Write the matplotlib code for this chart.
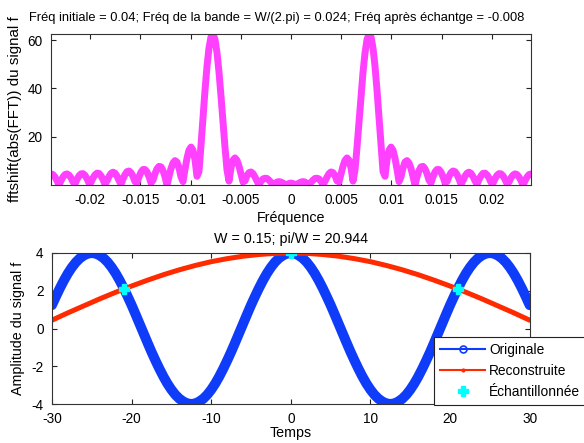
import numpy as np
import matplotlib
matplotlib.use("Agg")
import matplotlib.pyplot as plt
from matplotlib.lines import Line2D
from matplotlib.ticker import FuncFormatter

plt.rcParams["font.family"] = ["Liberation Sans", "DejaVu Sans"]
plt.rcParams["axes.unicode_minus"] = False

# ── Data ─────────────────────────────────────────────────────────────────
# top panel: |FFT| of the sampled signal, 241 points over [-0.0239, 0.0239]
spec_freq = np.linspace(-0.0239, 0.0239, 241)
spec_amp = [
    4.6, 4.3, 3.3, 1.8, 0.0, 1.8, 3.3, 4.3, 4.6, 4.1, 3.0, 1.3, 0.5, 2.3, 3.8, 4.6,
    4.7, 4.0, 2.6, 0.8, 1.1, 2.9, 4.2, 4.9, 4.8, 3.8, 2.3, 0.3, 1.7, 3.5, 4.8, 5.3,
    4.9, 3.7, 1.9, 0.3, 2.5, 4.3, 5.5, 5.8, 5.1, 3.6, 1.4, 1.0, 3.4, 5.3, 6.4, 6.4,
    5.4, 3.5, 0.9, 2.0, 4.7, 6.7, 7.7, 7.5, 6.0, 3.4, 0.0, 3.5, 6.8, 9.1, 10.1, 9.5,
    7.1, 3.4, 1.4, 6.5, 11.1, 14.4, 15.7, 14.4, 10.4, 3.6, 5.6, 16.4, 28.0, 39.2,
    49.1, 56.7, 61.3, 62.5, 60.2, 54.7, 46.7, 36.8, 26.1, 15.6, 6.2, 1.6, 7.1, 10.3,
    11.2, 10.2, 7.8, 4.6, 1.3, 1.7, 3.9, 5.1, 5.4, 4.7, 3.3, 1.6, 0.1, 1.5, 2.5, 2.8,
    2.7, 2.0, 1.1, 0.2, 0.6, 1.2, 1.4, 1.2, 0.8, 0.3, 0.2, 0.6, 0.8, 0.6, 0.2, 0.3,
    0.8, 1.2, 1.4, 1.2, 0.6, 0.2, 1.1, 2.0, 2.7, 2.8, 2.5, 1.5, 0.1, 1.6, 3.3, 4.7,
    5.4, 5.1, 3.9, 1.7, 1.3, 4.6, 7.8, 10.2, 11.2, 10.3, 7.1, 1.6, 6.2, 15.6, 26.1,
    36.8, 46.7, 54.7, 60.2, 62.5, 61.3, 56.7, 49.1, 39.2, 28.0, 16.4, 5.6, 3.6, 10.4,
    14.4, 15.7, 14.4, 11.1, 6.5, 1.4, 3.4, 7.1, 9.5, 10.1, 9.1, 6.8, 3.5, 0.0, 3.4,
    6.0, 7.5, 7.7, 6.7, 4.7, 2.0, 0.9, 3.5, 5.4, 6.4, 6.4, 5.3, 3.4, 1.0, 1.4, 3.6,
    5.1, 5.8, 5.5, 4.3, 2.5, 0.3, 1.9, 3.7, 4.9, 5.3, 4.8, 3.5, 1.7, 0.3, 2.3, 3.8,
    4.8, 4.9, 4.2, 2.9, 1.1, 0.8, 2.6, 4.0, 4.7, 4.6, 3.8, 2.3, 0.5, 1.3, 3.0, 4.1,
    4.6, 4.3, 3.3, 1.8, 0.0, 1.8, 3.3, 4.3, 4.6,
]

# bottom panel: original signal, t = -30..30 step 0.5
t_orig = np.linspace(-30, 30, 121)
y_orig = [
    1.24, 1.70, 2.14, 2.55, 2.92, 3.24, 3.51, 3.72, 3.87, 3.97, 4.00,
    3.97, 3.87, 3.72, 3.51, 3.24, 2.92, 2.55, 2.14, 1.70, 1.24, 0.75, 0.25,
    -0.25, -0.75, -1.24, -1.70, -2.14, -2.55, -2.92, -3.24, -3.51, -3.72, -3.87,
    -3.97, -4.00,
    -3.97, -3.87, -3.72, -3.51, -3.24, -2.92, -2.55, -2.14, -1.70, -1.24, -0.75,
    -0.25, 0.25, 0.75, 1.24, 1.70, 2.14, 2.55, 2.92, 3.24, 3.51, 3.72, 3.87, 3.97,
    4.00,
    3.97, 3.87, 3.72, 3.51, 3.24, 2.92, 2.55, 2.14, 1.70, 1.24, 0.75, 0.25,
    -0.25, -0.75, -1.24, -1.70, -2.14, -2.55, -2.92, -3.24, -3.51, -3.72, -3.87,
    -3.97, -4.00,
    -3.97, -3.87, -3.72, -3.51, -3.24, -2.92, -2.55, -2.14, -1.70, -1.24, -0.75,
    -0.25, 0.25, 0.75, 1.24, 1.70, 2.14, 2.55, 2.92, 3.24, 3.51, 3.72, 3.87, 3.97,
    4.00, 3.97, 3.87, 3.72, 3.51, 3.24, 2.92, 2.55, 2.14, 1.70, 1.24,
]

# reconstructed signal, t = -30..30 step 2
t_rec = np.linspace(-30, 30, 31)
y_rec = [
    0.44, 0.83, 1.20, 1.57, 1.92, 2.25, 2.56, 2.85, 3.11, 3.34, 3.54, 3.70, 3.83,
    3.92, 3.98, 4.00, 3.98, 3.92, 3.83, 3.70, 3.54, 3.34, 3.11, 2.85, 2.56, 2.25,
    1.92, 1.57, 1.20, 0.83, 0.44,
]

# samples
t_samp = [-20.944, 0.0, 20.944]
y_samp = [2.10, 4.00, 2.10]

top_title = ("Fréq initiale = 0.04; Fréq de la bande = W/(2.pi) = 0.024; "
             "Fréq après échantge = -0.008")
bot_title = "W = 0.15; pi/W = 20.944"
top_xticks = [-0.02, -0.015, -0.01, -0.005, 0, 0.005, 0.01, 0.015, 0.02]
top_yticks = [20, 40, 60]
bot_xticks = [-30, -20, -10, 0, 10, 20, 30]
bot_yticks = [-4, -2, 0, 2, 4]

BLUE = "#0f3cf8"
RED = "#ff2a00"
MAGENTA = "#ff40ff"
CYAN = "#00ffff"
FS_TICK = 9.8
FS_LABEL = 10.3
FS_TOP_TITLE = 9.3

fmt = FuncFormatter(lambda v, p: f"{v:g}")


def style(ax):
    ax.tick_params(direction="in", top=True, right=True, length=3.5,
                   width=0.8, labelsize=FS_TICK, colors="#222222",
                   labelcolor="black")
    ax.tick_params(axis="x", pad=6)
    ax.tick_params(axis="y", pad=6)
    for s in ax.spines.values():
        s.set_linewidth(0.8)
        s.set_color("#333333")
    ax.xaxis.set_major_formatter(fmt)
    ax.yaxis.set_major_formatter(fmt)


fig = plt.figure(figsize=(5.84, 4.43), dpi=100)

# ── top: spectrum ─────────────────────────────────────────────────────────
ax1 = fig.add_axes([0.0873, 0.5824, 0.822, 0.3409])
ax1.plot(spec_freq, spec_amp, color=MAGENTA, lw=5, solid_capstyle="round",
         solid_joinstyle="round")
ax1.set_xlim(-0.0239, 0.0239)
ax1.set_ylim(0, 62.5)
ax1.set_xticks(top_xticks)
ax1.set_yticks(top_yticks)
style(ax1)
ax1.set_title(top_title, fontsize=FS_TOP_TITLE, pad=9, x=0.471)
ax1.set_xlabel("Fréquence", fontsize=FS_LABEL, labelpad=3)
ax1.set_ylabel("fftshift(abs(FFT)) du signal f", fontsize=10.9, labelpad=4)

# ── bottom: signals ───────────────────────────────────────────────────────
ax2 = fig.add_axes([0.0890, 0.0880, 0.818, 0.3409])
ax2.plot(t_orig, y_orig, color=BLUE, lw=7.2, solid_capstyle="round",
         solid_joinstyle="round")
ax2.plot(t_rec, y_rec, color=RED, lw=3.6, solid_capstyle="round",
         solid_joinstyle="round")
ax2.plot(t_samp, y_samp, linestyle="none", marker="P", ms=7, color=CYAN,
         mec=CYAN)
ax2.set_xlim(-30, 30)
ax2.set_ylim(-4, 4)
ax2.set_xticks(bot_xticks)
ax2.set_yticks(bot_yticks)
style(ax2)
ax2.set_title(bot_title, fontsize=FS_LABEL, pad=7)
ax2.set_xlabel("Temps", fontsize=FS_LABEL, labelpad=0)
ax2.set_ylabel("Amplitude du signal f", fontsize=FS_LABEL, labelpad=5)

handles = [
    Line2D([], [], color=BLUE, lw=1.5, marker="o", mfc="none", ms=5, mew=1.2),
    Line2D([], [], color=RED, lw=1.5, marker=".", ms=4),
    Line2D([], [], color=CYAN, lw=0, marker="P", ms=7),
]
labels = ["Originale", "Reconstruite", "Échantillonnée"]
leg = ax2.legend(handles, labels, loc="lower left",
                 bbox_to_anchor=(0.799, -0.007), fontsize=9.9,
                 frameon=True, fancybox=False, edgecolor="#222222",
                 framealpha=1, handlelength=3.3, handletextpad=0.3,
                 labelspacing=0.5, borderpad=0.45, borderaxespad=0)
leg.get_frame().set_linewidth(0.8)

fig.savefig("out.png", dpi=100)
